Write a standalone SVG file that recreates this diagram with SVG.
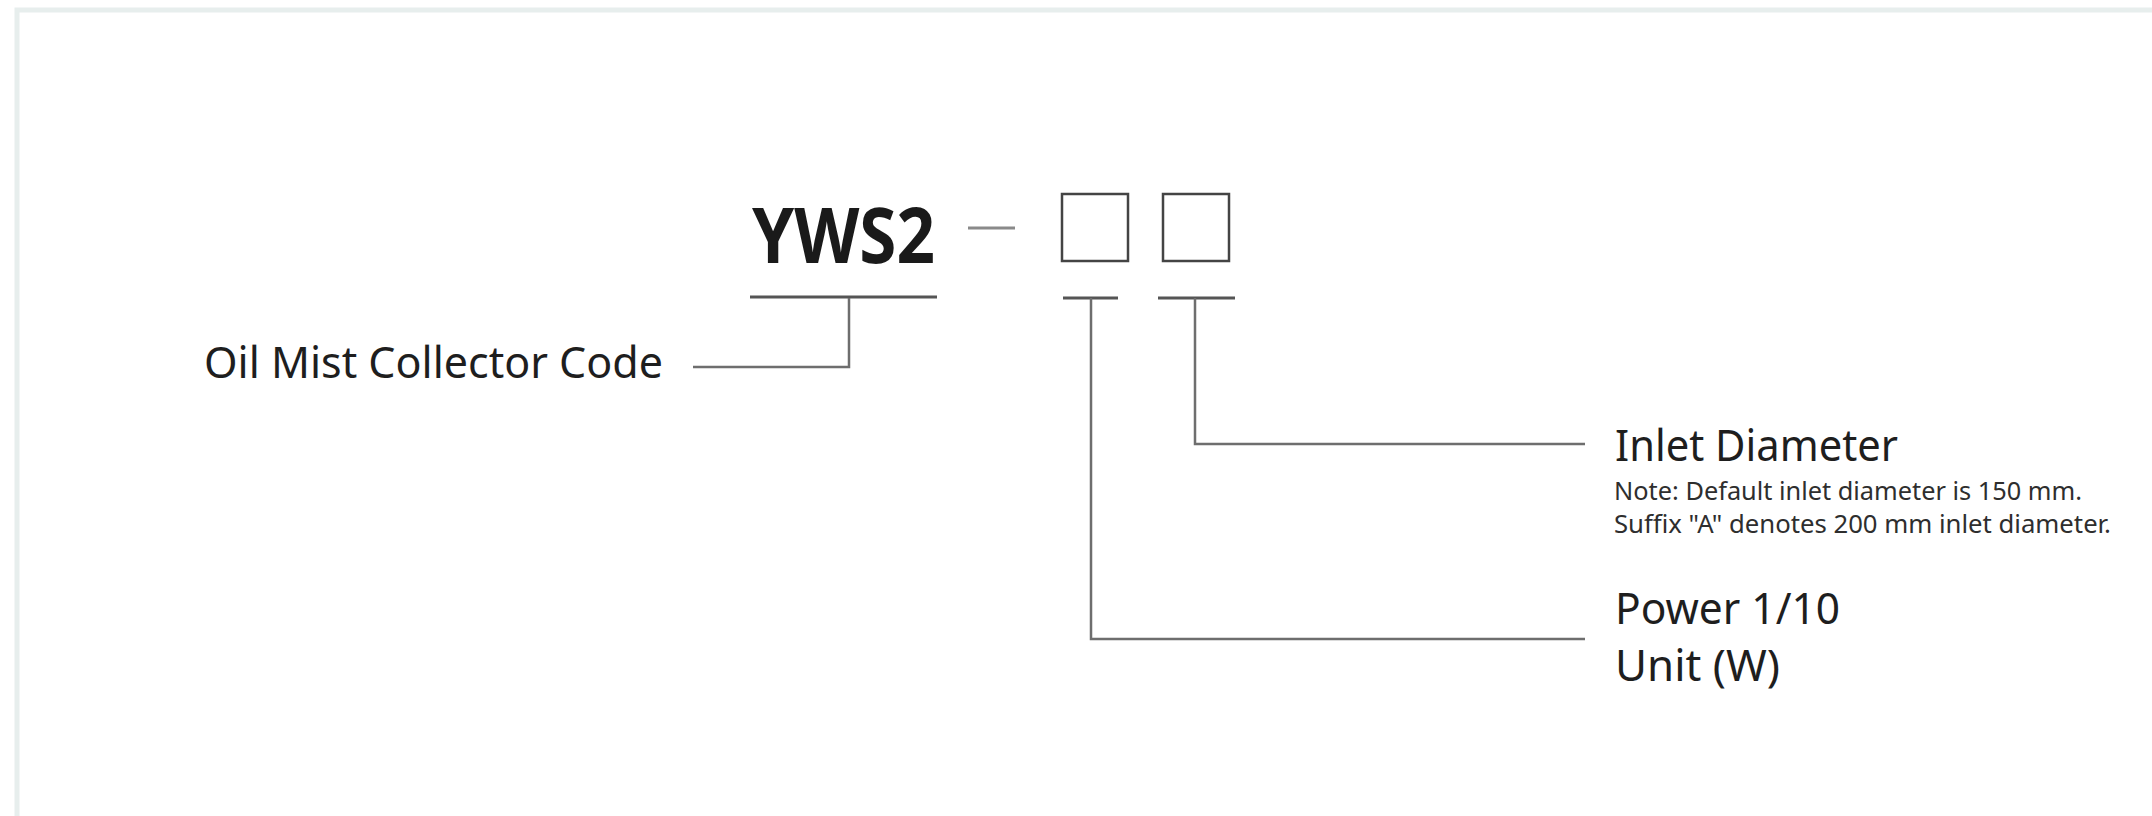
<svg xmlns="http://www.w3.org/2000/svg" width="2152" height="816" viewBox="0 0 2152 816">
  <style>
    .lbl { font-family: "Noto Sans", "Open Sans", "Liberation Sans", sans-serif; fill: #1e1e1e; }
    .code { font-family: "Noto Sans", "Open Sans", "Liberation Sans", sans-serif; font-weight: bold; fill: #1a1a1a; }
    .note { font-family: "Noto Sans", "Open Sans", "Liberation Sans", sans-serif; fill: #2e2e2e; }
    .bar { stroke: #555; stroke-width: 3; fill: none; }
    .box { stroke: #444; stroke-width: 2.5; fill: #fff; }
    .lead { stroke: #6e6e6e; stroke-width: 2.5; fill: none; }
  </style>
  <rect width="2152" height="816" fill="#fff"/>
  <path d="M17 830 V10 H2170" fill="none" stroke="#e7eeed" stroke-width="5"/>

  <g id="code">
    <text class="code" x="752" y="263" font-size="77" textLength="183" lengthAdjust="spacingAndGlyphs">YWS2</text>
    <line x1="968" y1="228" x2="1015" y2="228" stroke="#8a8a8a" stroke-width="3"/>
    <line class="bar" x1="750" y1="297" x2="937" y2="297"/>
  </g>
  <g id="box-power">
    <rect class="box" x="1062" y="194" width="66" height="67"/>
    <line class="bar" x1="1063" y1="298" x2="1118" y2="298"/>
  </g>
  <g id="box-inlet">
    <rect class="box" x="1163" y="194" width="66" height="67"/>
    <line class="bar" x1="1158" y1="298" x2="1235" y2="298"/>
  </g>

  <g id="label-code">
    <text class="lbl" x="204" y="378" font-size="43" textLength="459" lengthAdjust="spacingAndGlyphs">Oil Mist Collector Code</text>
  </g>
  <g id="label-inlet">
    <text class="lbl" x="1615" y="461" font-size="43" textLength="283" lengthAdjust="spacingAndGlyphs">Inlet Diameter</text>
    <text class="note" x="1614" y="500" font-size="24.5" textLength="468" lengthAdjust="spacingAndGlyphs">Note: Default inlet diameter is 150 mm.</text>
    <text class="note" x="1614" y="533" font-size="24.5" textLength="497" lengthAdjust="spacingAndGlyphs">Suffix "A" denotes 200 mm inlet diameter.</text>
  </g>
  <g id="label-power">
    <text class="lbl" x="1615" y="624" font-size="43" textLength="225" lengthAdjust="spacingAndGlyphs">Power 1/10</text>
    <text class="lbl" x="1615" y="681" font-size="43" textLength="165" lengthAdjust="spacingAndGlyphs">Unit (W)</text>
  </g>

  <g id="connectors">
    <polyline class="lead" points="849,298 849,367 693,367"/>
    <polyline class="lead" points="1195,298 1195,444 1585,444"/>
    <polyline class="lead" points="1091,298 1091,639 1585,639"/>
  </g>
</svg>
